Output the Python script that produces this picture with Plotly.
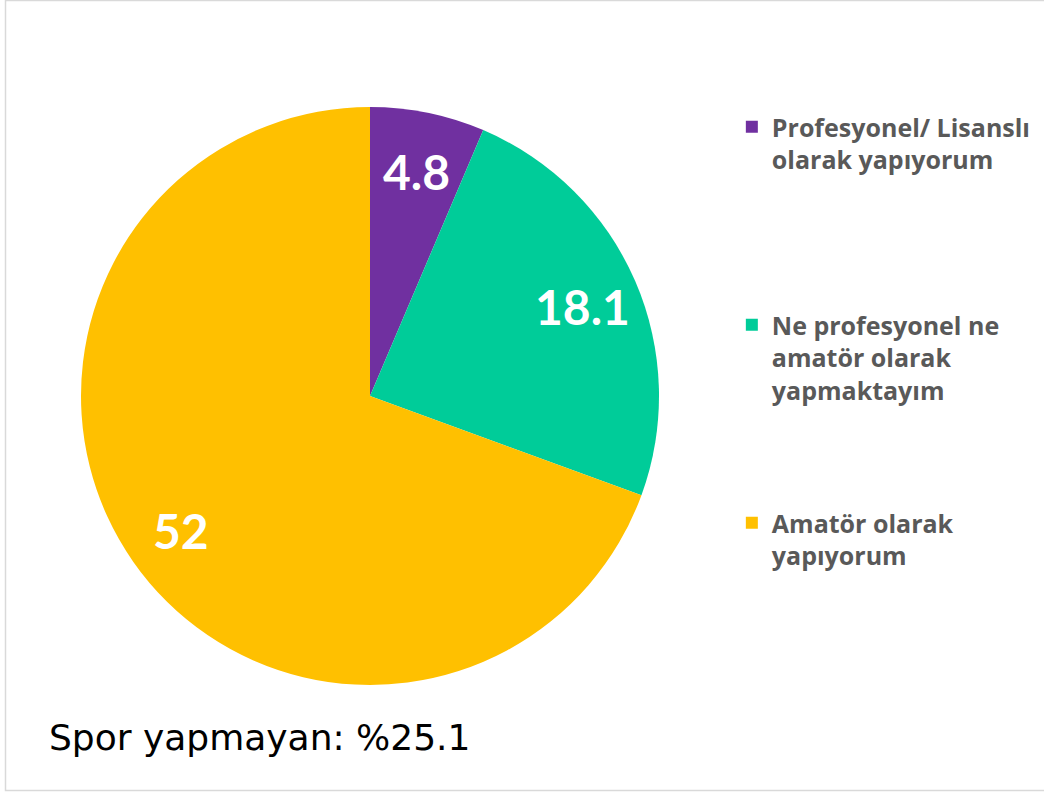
import math
import plotly.graph_objects as go

# ---- data ----
categories = [
    "Profesyonel/ Lisanslı<br>olarak yapıyorum",
    "Ne profesyonel ne<br>amatör olarak<br>yapmaktayım",
    "Amatör olarak<br>yapıyorum",
]
values = [4.8, 18.1, 52]
value_labels = ["4.8", "18.1", "52"]
colors = ["#7030A0", "#00CC99", "#FFC000"]
note_text = "Spor yapmayan: %25.1"

W, H = 1044, 792
# pie geometry (paper fractions)
dom_x = [81 / W, 659 / W]
dom_y = [106 / H, 686 / H]
dom_y = [1 - dom_y[1], 1 - dom_y[0]]

# pad legend entries so they are spaced like the reference
pad = ["<br> <br> <br> <br> ", "<br> <br> <br> ", ""]
legend_names = [c + p for c, p in zip(categories, pad)]

fig = go.Figure()
fig.add_trace(go.Pie(
    labels=legend_names,
    values=values,
    sort=False,
    direction="clockwise",
    rotation=0,
    marker=dict(colors=colors, line=dict(width=0)),
    textinfo="none",
    hoverinfo="label+value",
    domain=dict(x=dom_x, y=dom_y),
    showlegend=True,
))

# value labels positioned from the data's cumulative angles
total = sum(values)
cx = (dom_x[0] + dom_x[1]) / 2
cy = (dom_y[0] + dom_y[1]) / 2
r_px = min((dom_x[1] - dom_x[0]) * W, (dom_y[1] - dom_y[0]) * H) / 2
cum = 0.0
for v, lab in zip(values, value_labels):
    mid = (cum + v / 2) / total * 2 * math.pi
    cum += v
    rr = 0.8 * r_px
    fig.add_annotation(
        x=cx + rr * math.sin(mid) / W,
        y=cy + rr * math.cos(mid) / H,
        xref="paper", yref="paper",
        text=lab, showarrow=False, yshift=-2,
        font=dict(family="Lato", size=48, color="white", weight="bold"),
        xanchor="center", yanchor="middle",
    )

fig.add_annotation(
    x=47 / W, y=1 - 737 / H, xref="paper", yref="paper",
    text=note_text, showarrow=False, xanchor="left", yanchor="middle",
    font=dict(family="DejaVu Sans", size=36, color="black"),
)

# light frame
fig.add_shape(type="rect", xref="paper", yref="paper",
              x0=5.5 / W, x1=1.02, y0=1 - 790.5 / H, y1=1 - 0.5 / H,
              line=dict(color="#D9D9D9", width=1.5))

fig.update_layout(
    width=W, height=H,
    margin=dict(l=0, r=0, t=0, b=0),
    paper_bgcolor="white",
    plot_bgcolor="white",
    legend=dict(
        x=0.701, y=1 - 104 / H, xanchor="left", yanchor="top",
        valign="top",
        font=dict(family="Open Sans", size=25, color="#595959", weight="bold"),
        traceorder="normal",
        itemclick=False,
    ),
)

fig.write_html("out.html", config={"displayModeBar": False},
               post_script="document.body.style.margin='0px';")
